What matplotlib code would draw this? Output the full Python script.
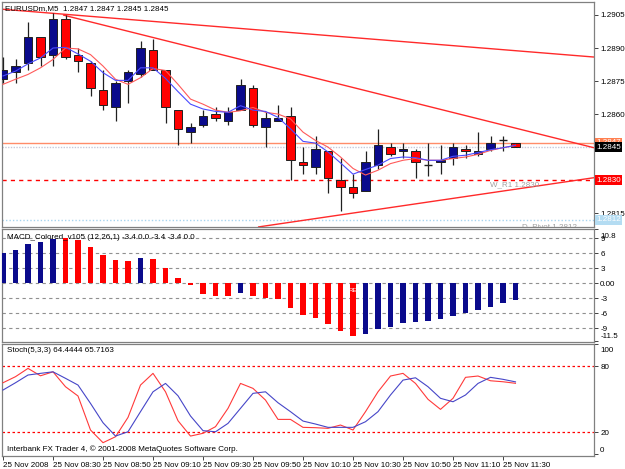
import matplotlib
matplotlib.use('Agg')
import matplotlib.pyplot as plt
import matplotlib.transforms as mtransforms
from matplotlib.patches import Rectangle

plt.rcParams['font.family'] = ['Liberation Sans', 'DejaVu Sans']

# ---------------- data ----------------
bars = list(range(42))
time_label_bars = [0, 4, 8, 12, 16, 20, 24, 28, 32, 36, 40]
time_labels = ["25 Nov 2008", "25 Nov 08:30", "25 Nov 08:50", "25 Nov 09:10",
               "25 Nov 09:30", "25 Nov 09:50", "25 Nov 10:10", "25 Nov 10:30",
               "25 Nov 10:50", "25 Nov 11:10", "25 Nov 11:30"]

opens = [1.2876, 1.2879, 1.2883, 1.2895, 1.2887, 1.2903, 1.2887, 1.2883, 1.2871, 1.2863,
         1.2875, 1.2878, 1.2889, 1.2880, 1.2862, 1.2852, 1.2855, 1.2860, 1.2857, 1.2862,
         1.2872, 1.2854, 1.2857, 1.2859, 1.2838, 1.2836, 1.2843, 1.2830, 1.2827, 1.2825,
         1.2837, 1.2845, 1.2843, 1.2843, 1.2837, 1.2838, 1.2840, 1.2844, 1.2842, 1.2844,
         1.2848, 1.2847]
highs = [1.2886, 1.2885, 1.2902, 1.2895, 1.2906, 1.2905, 1.2890, 1.2884, 1.2880, 1.2875,
         1.2880, 1.2893, 1.2894, 1.2880, 1.2862, 1.2856, 1.2862, 1.2863, 1.2863, 1.2876,
         1.2873, 1.2861, 1.2864, 1.2863, 1.2845, 1.2850, 1.2843, 1.2840, 1.2833, 1.2843,
         1.2853, 1.2847, 1.2847, 1.2844, 1.2847, 1.2846, 1.2847, 1.2846, 1.2852, 1.2850,
         1.2850, 1.2847]
lows = [1.2874, 1.2874, 1.2880, 1.2882, 1.2882, 1.2885, 1.2879, 1.2868, 1.2862, 1.2857,
        1.2865, 1.2877, 1.2880, 1.2856, 1.2846, 1.2847, 1.2854, 1.2857, 1.2855, 1.2862,
        1.2854, 1.2845, 1.2857, 1.2830, 1.2833, 1.2833, 1.2824, 1.2816, 1.2822, 1.2825,
        1.2835, 1.2841, 1.2840, 1.2831, 1.2832, 1.2833, 1.2837, 1.2840, 1.2841, 1.2843,
        1.2843, 1.2845]
closes = [1.2880, 1.2882, 1.2895, 1.2886, 1.2903, 1.2886, 1.2884, 1.2872, 1.2864, 1.2874,
          1.2879, 1.2890, 1.2880, 1.2863, 1.2853, 1.2854, 1.2859, 1.2858, 1.2861, 1.2873,
          1.2855, 1.2858, 1.2858, 1.2839, 1.2837, 1.2844, 1.2831, 1.2827, 1.2824, 1.2838,
          1.2846, 1.2842, 1.2844, 1.2838, 1.2837, 1.2839, 1.2845, 1.2843, 1.2843, 1.2847,
          1.2848, 1.2845]

ma_fast = [1.28773, 1.28795, 1.28828, 1.28855, 1.28900, 1.28903, 1.28873, 1.28840, 1.28788, 1.28753,
           1.28753, 1.28810, 1.28810, 1.28762, 1.28702, 1.28645, 1.28623, 1.28612, 1.28608, 1.28638,
           1.28618, 1.28612, 1.28585, 1.28533, 1.28476, 1.28468, 1.28428, 1.28378, 1.28327, 1.28348,
           1.28368, 1.28398, 1.28405, 1.28402, 1.28390, 1.28390, 1.28408, 1.28413, 1.28425, 1.28438,
           1.28447, 1.28458]
ma_slow = [1.28735, 1.28758, 1.28780, 1.28810, 1.28848, 1.28900, 1.28896, 1.28870, 1.28818, 1.28758,
           1.28735, 1.28765, 1.28807, 1.28798, 1.28735, 1.28668, 1.28645, 1.28618, 1.28608, 1.28615,
           1.28630, 1.28608, 1.28600, 1.28578, 1.28518, 1.28480, 1.28450, 1.28405, 1.28353, 1.28323,
           1.28345, 1.28375, 1.28390, 1.28398, 1.28390, 1.28390, 1.28398, 1.28405, 1.28417, 1.28435,
           1.28447, 1.28458]

# trend lines: (bar0, price0, bar1, price1)
trend_lines = [(-0.24, 1.29077, 47.28, 1.28859),
               (4.8, 1.29050, 47.28, 1.28447),
               (20.4, 1.28087, 47.28, 1.28311)]

ask_level = 1.2847
bid_level = 1.2845
wr1_level = 1.2830
dpivot_level = 1.2812
price_ticks = [1.2905, 1.2890, 1.2875, 1.2860, 1.2845, 1.2830, 1.2815]

macd = [6.0, 6.7, 7.8, 8.2, 8.9, 9.1, 8.7, 7.3, 5.7, 4.7, 4.5, 5.1, 4.9, 3.1, 1.0, -0.4,
        -2.2, -2.5, -2.5, -1.9, -2.5, -3.0, -3.1, -5.0, -6.3, -7.0, -8.2, -9.5, -10.5, -10.2,
        -9.2, -8.7, -8.0, -7.7, -7.5, -7.2, -6.5, -6.0, -5.4, -4.7, -3.9, -3.4]
macd_up = [1, 1, 1, 1, 1, 0, 0, 0, 0, 0, 0, 1, 0, 0, 0, 0, 0, 0, 0, 1, 0, 0, 0, 0, 0, 0,
           0, 0, 0, 1, 1, 1, 1, 1, 1, 1, 1, 1, 1, 1, 1, 1]
macd_ticks = [10.8, 9, 6, 3, 0, -3, -6, -9, -11.5]
macd_tick_labels = ["10.8", "9", "6", "3", "0.00", "-3", "-6", "-9", "-11.5"]

stoch_k = [64.9, 70.4, 77.9, 71.2, 74.8, 61.3, 52.9, 22.1, 10.6, 16.0, 33.5, 62.8, 73.4, 56.7,
           30.5, 16.6, 19.1, 25.1, 41.7, 64.3, 59.8, 49.2, 31.7, 31.7, 24.5, 24.2, 23.6, 26.6,
           22.1, 38.7, 56.7, 71.0, 73.4, 64.3, 49.9, 40.8, 50.8, 69.8, 71.0, 66.7, 65.8, 64.4]
stoch_d = [58.3, 64.9, 71.9, 73.4, 74.8, 68.9, 62.8, 46.2, 28.7, 16.6, 20.5, 38.7, 56.7, 64.3,
           53.1, 34.8, 21.5, 20.5, 28.1, 41.7, 55.3, 56.7, 46.8, 38.7, 30.2, 27.5, 24.5, 24.5,
           24.5, 29.6, 38.7, 53.8, 67.3, 69.4, 61.3, 50.8, 47.7, 53.8, 64.3, 69.8, 68.0, 65.7]
stoch_levels = [80, 20]
stoch_ticks = [100, 80, 20, 0]

# ---------------- figure ----------------
W, H = 625, 469
fig = plt.figure(figsize=(W / 100, H / 100), dpi=100)
fig.patch.set_facecolor('white')

def rect(x0, y0, x1, y1):
    return [x0 / W, 1 - y1 / H, (x1 - x0) / W, (y1 - y0) / H]

ax = fig.add_axes(rect(2, 2, 594, 227))
axm = fig.add_axes(rect(2, 229, 594, 342), sharex=ax)
axs = fig.add_axes(rect(2, 344, 594, 456), sharex=ax)

FS = 5.8
RED = '#ff0000'
NAVY = '#0a0a8c'

for a in (ax, axm, axs):
    a.set_facecolor('white')
    for s in a.spines.values():
        s.set_color('#808080')
        s.set_linewidth(0.9)
    a.yaxis.tick_right()
    a.tick_params(axis='y', direction='out', length=3, width=0.7, color='#404040',
                  labelsize=FS, pad=1.5, labelcolor='black')

ax.set_xlim(-0.08, 47.28)

# ---- main price chart ----
ax.set_ylim(1.28087, 1.29109)
for (b0, p0, b1, p1) in trend_lines:
    ax.plot([b0, b1], [p0, p1], color='#ff2a2a', lw=1.0, zorder=2, solid_capstyle='butt')

ax.axhline(ask_level, color='#ff8c69', lw=1.0, zorder=1.5)
ax.axhline(bid_level, color='#c8c8d8', lw=1.0, ls=(0, (1, 1)), zorder=1.5)
ax.axhline(wr1_level, color=RED, lw=1.0, ls=(0, (3, 3)), zorder=1.5)
ax.axhline(dpivot_level, color='#a8d4ee', lw=1.0, ls=(0, (1, 1.5)), zorder=1.5)

bw = 0.66
for i, o, h, l, c in zip(bars, opens, highs, lows, closes):
    ax.vlines(i, l, h, color='#202020', lw=0.9, zorder=3)
    if abs(c - o) < 1e-7:
        ax.hlines(o, i - bw / 2, i + bw / 2, color='#202020', lw=1.0, zorder=4)
    else:
        fc = NAVY if c > o else RED
        ax.add_patch(Rectangle((i - bw / 2, min(o, c)), bw, abs(c - o), facecolor=fc,
                               edgecolor='#202020', lw=0.7, zorder=4))

ax.plot(bars, ma_slow, color='#ff5a5a', lw=0.8, zorder=5)
ax.plot(bars, ma_fast, color='#4a4aff', lw=0.8, zorder=5)

boxed = [bid_level, wr1_level]
ax.set_yticks(price_ticks)
ax.set_yticklabels(["" if any(abs(p - b) < 1e-9 for b in boxed) else f"{p:.4f}"
                    for p in price_ticks])
ax.tick_params(axis='x', bottom=False, labelbottom=False)

ytr = ax.get_yaxis_transform()
off = mtransforms.ScaledTranslation(2 / 100, 0, fig.dpi_scale_trans)
def price_box(level, fc, z):
    ax.text(1.0, level, f"{level:.4f}", transform=ytr + off, ha='left', va='center',
            fontsize=FS, color='white', zorder=z, clip_on=False,
            bbox=dict(boxstyle='square,pad=0.18', fc=fc, ec='none'))
price_box(ask_level, '#ff7f50', 10)
price_box(bid_level, 'black', 11)
price_box(wr1_level, RED, 11)
price_box(dpivot_level, '#b4dcf2', 11)

ax.text(38.96, wr1_level, "W_R1 1.2830", color='#a0a0a0', fontsize=FS,
        ha='left', va='top', transform=ax.transData +
        mtransforms.ScaledTranslation(0, -1.5 / 100, fig.dpi_scale_trans), clip_on=True)
ax.text(41.5, dpivot_level, "D_Pivot 1.2812", color='#a0a0a0', fontsize=FS,
        ha='left', va='top', transform=ax.transData +
        mtransforms.ScaledTranslation(0, -3.5 / 100, fig.dpi_scale_trans), clip_on=True)

fig.text(5 / W, 1 - 8.5 / H, "EURUSDm,M5  1.2847 1.2847 1.2845 1.2845", fontsize=FS,
         ha='left', va='center', color='black')

# ---- MACD ----
axm.set_ylim(-11.74, 10.86)
for lv in [9, 6, 3, 0, -3, -6, -9]:
    axm.axhline(lv, color='#909090', lw=0.8, ls=(0, (3, 3)), zorder=1)
axm.bar(bars, macd, width=0.45, color=[NAVY if u else RED for u in macd_up], zorder=3)
axm.set_yticks(macd_ticks)
axm.set_yticklabels(macd_tick_labels)
lbls = axm.get_yticklabels()
lbls[0].set_transform(lbls[0].get_transform() +
                      mtransforms.ScaledTranslation(0, -5.7 / 100, fig.dpi_scale_trans))
lbls[-1].set_transform(lbls[-1].get_transform() +
                       mtransforms.ScaledTranslation(0, 5.3 / 100, fig.dpi_scale_trans))
axm.tick_params(axis='x', bottom=False, labelbottom=False)
axm.text(5 / 592, 1 - 8 / 113, "MACD_Colored_v105 (12,26,1) -3.4 0.0 -3.4 -3.4 0.0",
         transform=axm.transAxes, fontsize=FS, ha='left', va='center', color='black', zorder=6)
axm.text(28, -0.9, "RE", fontsize=4.5, color='white', ha='center', va='top', zorder=6)

# ---- Stochastic ----
axs.set_ylim(-1.45, 99.9)
for lv in stoch_levels:
    axs.axhline(lv, color=RED, lw=0.9, ls=(0, (2, 2)), zorder=1)
axs.plot(bars, stoch_k, color='#ff3a3a', lw=0.8, zorder=3)
axs.plot(bars, stoch_d, color='#4646c8', lw=0.8, zorder=3)
axs.set_yticks(stoch_ticks)
axs.set_yticklabels([str(t) for t in stoch_ticks])
sl = axs.get_yticklabels()
sl[0].set_transform(sl[0].get_transform() +
                    mtransforms.ScaledTranslation(0, -5 / 100, fig.dpi_scale_trans))
sl[-1].set_transform(sl[-1].get_transform() +
                     mtransforms.ScaledTranslation(0, 4.4 / 100, fig.dpi_scale_trans))
axs.text(5 / 592, 1 - 7 / 112, "Stoch(5,3,3) 64.4444 65.7163", transform=axs.transAxes,
         fontsize=FS, ha='left', va='center', color='black')
axs.text(5 / 592, 1 - 105 / 112, "Interbank FX Trader 4, \u00a9 2001-2008 MetaQuotes Software Corp.",
         transform=axs.transAxes, fontsize=FS, ha='left', va='center', color='black')

axs.set_xticks(time_label_bars)
axs.set_xticklabels(time_labels, ha='left')
axs.tick_params(axis='x', direction='out', length=3, width=0.7, color='#404040',
                labelsize=FS, pad=1.5)

fig.savefig('out.png', dpi=100, facecolor='white')
